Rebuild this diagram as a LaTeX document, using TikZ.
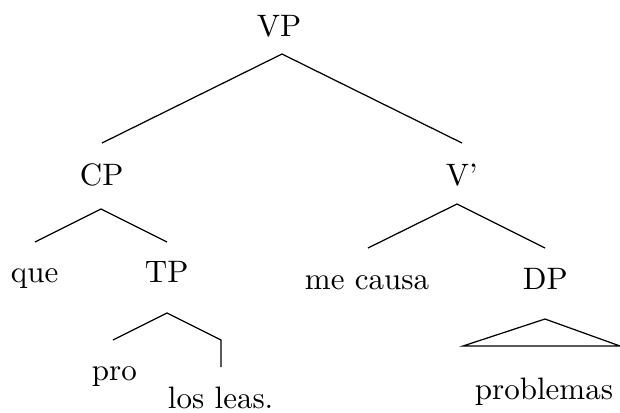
\documentclass[tikz,border=0pt]{standalone}
\begin{document}
\begin{tikzpicture}[x=0.3226pt,y=-0.3226pt,
  lbl/.style={anchor=base west,inner sep=0pt,outer sep=0pt},
  edge/.style={line width=0.4pt}]
\useasboundingbox (0,0) rectangle (620,412);
% labels
\node[lbl] (vp) at (257,36) {VP};
\node[lbl] (cp) at (80,185) {CP};
\node[lbl] (vbar) at (446,185) {V'};
\node[lbl] (que) at (11,282) {que};
\node[lbl] (tp) at (145,282) {TP};
\node[lbl] (mecausa) at (305,289) {me causa};
\node[lbl] (dp) at (523,289) {DP};
\node[lbl] (pro) at (92,380) {pro};
\node[lbl] (losleas) at (168,408) {los leas.};
\node[lbl] (problemas) at (475,399) {problemas};
% branch points
\coordinate (vpA) at (282,54);
\coordinate (vpL) at (102,143);
\coordinate (vpR) at (462,143);
\coordinate (cpA) at (101,209);
\coordinate (cpL) at (35,242);
\coordinate (cpR) at (167,242);
\coordinate (vbA) at (457,204);
\coordinate (vbL) at (368,248);
\coordinate (vbR) at (545,248);
\coordinate (tpA) at (167,313);
\coordinate (tpL) at (113,340);
\coordinate (tpR) at (221,340);
\coordinate (tpD) at (221,367);
\coordinate (dpA) at (545,319);
\coordinate (dpL) at (463,346);
\coordinate (dpR) at (620,346);
% edges
\draw[edge] (vpL) -- (vpA) -- (vpR);
\draw[edge] (cpL) -- (cpA) -- (cpR);
\draw[edge] (vbL) -- (vbA) -- (vbR);
\draw[edge] (tpL) -- (tpA) -- (tpR) -- (tpD);
\draw[edge] (dpA) -- (dpL) -- (dpR) -- cycle;
\end{tikzpicture}
\end{document}
